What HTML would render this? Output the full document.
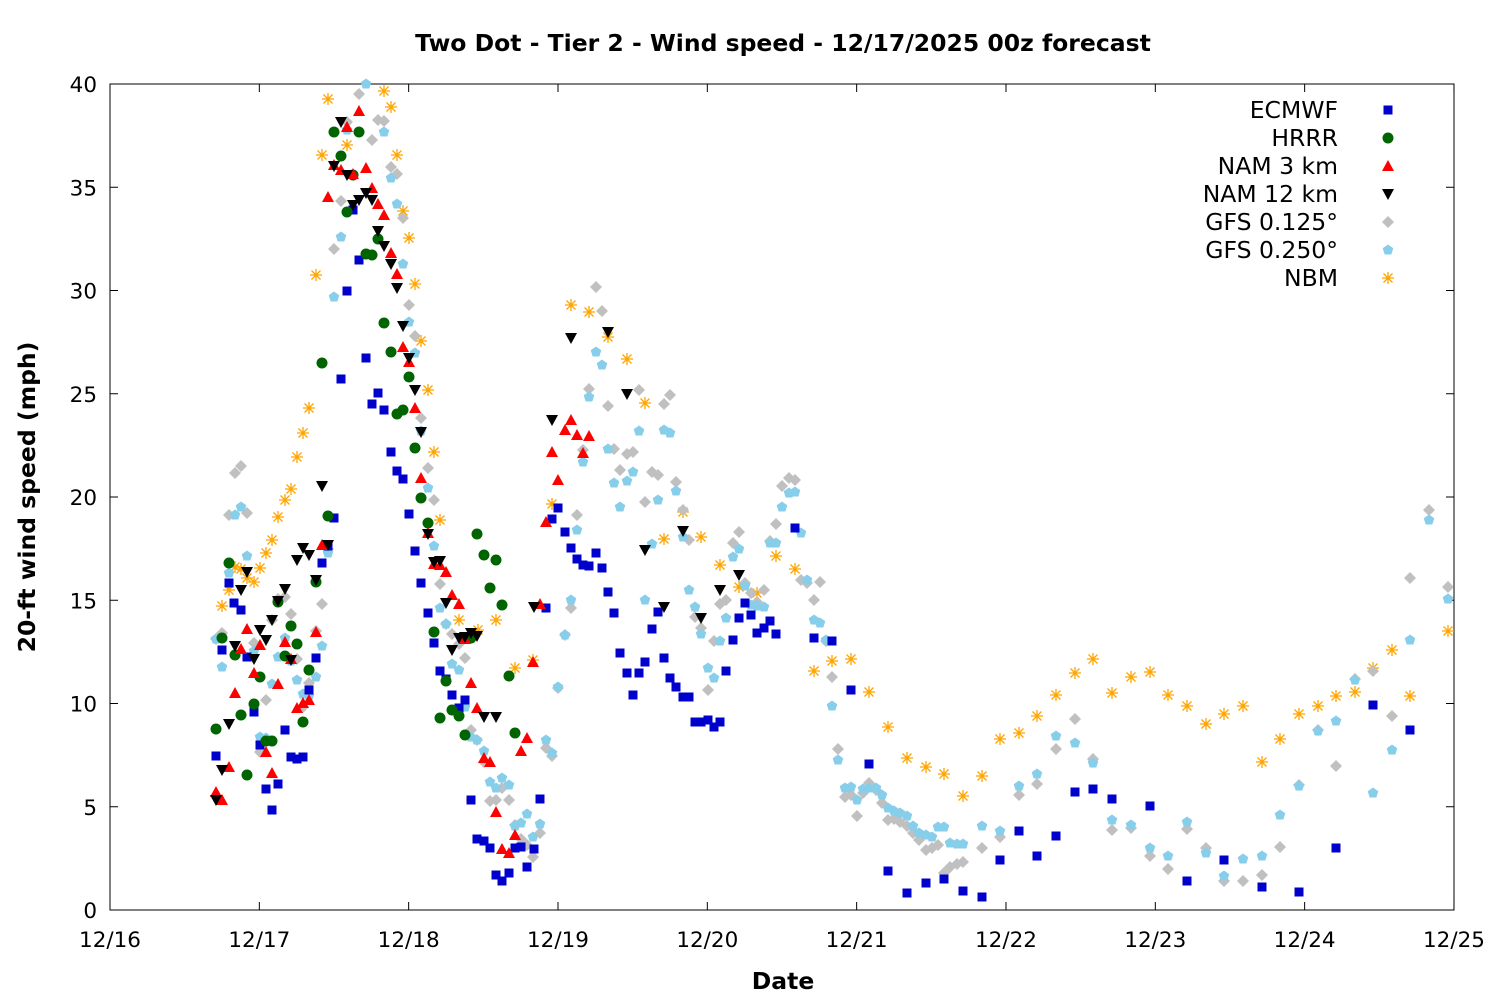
<!DOCTYPE html>
<html><head><meta charset="utf-8"><style>
body{margin:0;background:#fff;}
svg text{font-family:"DejaVu Sans","Liberation Sans",sans-serif;}
</style></head><body>
<svg id="s" width="1500" height="1000" xmlns="http://www.w3.org/2000/svg">
<rect width="1500" height="1000" fill="#fff"/>
<text x="783" y="51" text-anchor="middle" font-size="23.5" font-weight="bold">Two Dot - Tier 2 - Wind speed - 12/17/2025 00z forecast</text>
<rect x="110" y="84" width="1344" height="826" fill="none" stroke="#000" stroke-width="1"/>
<g id="ax" font-size="21.5"></g>
<text x="783" y="989" text-anchor="middle" font-size="23.5" font-weight="bold">Date</text>
<text transform="translate(35,497) rotate(-90)" text-anchor="middle" font-size="23.5" font-weight="bold">20-ft wind speed (mph)</text>
<g id="pts"></g>
<g id="leg" font-size="23.5"></g>
</svg>
<script>
const NS="http://www.w3.org/2000/svg";
function el(t,a,p,txt){const e=document.createElementNS(NS,t);for(const k in a)e.setAttribute(k,a[k]);if(txt!==undefined)e.textContent=txt;p.appendChild(e);return e;}
const ax=document.getElementById('ax');
for(let v=0;v<=40;v+=5){const y=910-v*20.65;el('line',{x1:110,x2:118,y1:y,y2:y,stroke:'#000'},ax);el('line',{x1:1446,x2:1454,y1:y,y2:y,stroke:'#000'},ax);el('text',{x:97,y:y+8,'text-anchor':'end'},ax,String(v));}
const dl=['12/16','12/17','12/18','12/19','12/20','12/21','12/22','12/23','12/24','12/25'];
dl.forEach((d,i)=>{const x=110+i*149.33;el('line',{x1:x,x2:x,y1:910,y2:902,stroke:'#000'},ax);el('line',{x1:x,x2:x,y1:84,y2:92,stroke:'#000'},ax);el('text',{x:x,y:947,'text-anchor':'middle'},ax,d);});
const g=document.getElementById('pts');
function mk(type,x,y,p){
 if(type==0)el('rect',{x:x-4.5,y:y-4.5,width:9,height:9,fill:'#0000cc'},p);
 else if(type==1)el('circle',{cx:x,cy:y,r:5.5,fill:'#006400'},p);
 else if(type==2)el('polygon',{points:`${x},${y-6} ${x-6},${y+5} ${x+6},${y+5}`,fill:'#ff0000'},p);
 else if(type==3)el('polygon',{points:`${x},${y+6} ${x-6},${y-5} ${x+6},${y-5}`,fill:'#000'},p);
 else if(type==4)el('polygon',{points:`${x},${y-6} ${x+6},${y} ${x},${y+6} ${x-6},${y}`,fill:'#c0c0c0'},p);
 else if(type==5)el('polygon',{points:`${x},${y-5.5} ${x+5.3},${y-1.7} ${x+3.3},${y+4.5} ${x-3.3},${y+4.5} ${x-5.3},${y-1.7}`,fill:'#87ceeb'},p);
 else {const s='#ffa500';el('path',{d:`M${x-6} ${y}H${x+6}M${x} ${y-6}V${y+6}M${x-4.5} ${y-4.5}L${x+4.5} ${y+4.5}M${x-4.5} ${y+4.5}L${x+4.5} ${y-4.5}`,stroke:s,'stroke-width':1.3},p);}
}
const D=[
[216,756,222,650,229,583,234,603,241,610,247,657,254,712,260,745,266,789,272,810,278,784,285,730,291,757,297,759,303,757,309,690,316,658,322,563,328,546,334,518,341,379,347,291,353,210,359,260,366,358,372,404,378,393,384,410,391,452,397,471,403,479,409,514,415,551,421,583,428,613,434,643,440,671,446,679,452,695,459,708,465,700,471,800,477,839,484,841,490,848,496,875,502,881,509,873,515,848,521,847,527,867,534,849,540,799,546,608,552,519,558,508,565,532,571,548,577,559,583,565,589,566,596,553,602,568,608,592,614,613,620,653,627,673,633,695,639,673,645,662,652,629,658,612,664,658,670,678,676,687,683,697,689,697,695,722,701,722,708,720,714,727,720,722,726,671,733,640,739,618,745,603,751,615,757,633,764,628,770,621,776,634,795,528,814,638,832,641,851,690,869,764,888,871,907,893,926,883,944,879,963,891,982,897,1000,860,1019,831,1037,856,1056,836,1075,792,1093,789,1112,799,1150,806,1187,881,1224,860,1262,887,1299,892,1336,848,1373,705,1410,730],
[216,729,222,638,229,563,235,655,241,715,247,775,254,704,260,677,266,741,272,741,278,602,285,656,291,626,297,644,303,722,309,670,316,582,322,363,328,516,334,132,341,156,347,212,353,175,359,132,366,254,372,255,378,239,384,323,391,352,397,414,403,410,409,377,415,448,421,498,428,523,434,632,440,718,446,681,452,710,459,716,465,735,471,638,477,534,484,555,490,588,496,560,502,605,509,676,515,733],
[216,792,222,800,229,767,235,693,241,649,247,629,254,673,260,645,266,752,272,773,278,684,285,642,291,659,297,708,303,703,309,700,316,632,322,545,328,197,334,165,341,170,347,127,353,174,359,111,366,168,372,188,378,204,384,215,391,253,397,274,403,347,409,362,415,408,421,478,428,533,434,564,440,565,446,572,452,595,459,604,465,639,471,683,477,708,484,758,490,762,496,812,502,849,509,853,515,835,521,751,527,738,533,662,540,604,546,522,552,452,558,480,565,430,571,420,577,435,583,453,589,436],
[216,800,222,770,229,724,235,646,241,590,247,572,254,659,260,630,266,640,272,620,278,601,285,589,291,660,297,560,303,548,309,555,316,580,322,486,328,545,334,166,341,122,347,175,353,205,359,200,366,193,372,200,378,231,384,246,391,264,397,288,403,326,409,358,415,390,421,432,428,534,434,562,440,561,446,603,452,650,459,638,465,637,471,633,477,636,484,717,496,717,534,607,552,420,571,338,608,332,627,394,645,550,664,607,683,531,701,618,720,590,739,575],
[216,639,222,633,229,515,235,473,241,466,247,513,254,643,260,752,266,700,272,620,278,599,285,597,291,614,297,659,303,707,309,683,316,631,322,604,328,549,334,249,341,201,347,122,359,94,372,140,378,120,384,121,391,167,397,174,403,218,409,305,415,336,421,418,428,468,434,500,440,584,446,624,452,634,459,644,465,658,471,730,477,740,484,762,490,801,496,800,502,788,509,800,515,825,521,839,527,845,533,857,540,833,546,748,552,756,558,688,565,635,571,608,577,515,583,450,589,389,596,287,602,311,608,406,614,449,620,470,627,454,633,452,639,390,645,502,652,472,658,475,664,404,670,395,676,482,683,510,689,540,695,617,701,628,708,690,714,641,720,604,726,600,733,543,739,532,745,583,751,593,757,602,764,590,770,541,776,524,782,486,789,478,795,480,801,580,807,583,814,600,820,582,826,641,832,677,838,749,845,797,851,795,857,816,863,793,869,783,876,790,882,803,888,820,894,819,900,822,907,826,913,833,919,840,926,850,932,848,938,845,944,873,950,867,957,864,963,862,982,848,1000,837,1019,795,1037,784,1056,749,1075,719,1093,759,1112,830,1131,828,1150,856,1168,869,1187,829,1206,848,1224,881,1243,881,1262,875,1280,847,1299,785,1318,730,1336,766,1355,679,1373,671,1392,716,1410,578,1429,510,1448,587],
[216,639,222,667,229,573,235,515,241,507,247,556,254,651,260,737,266,738,272,684,278,657,285,638,291,661,297,680,303,694,309,696,316,677,322,646,328,553,334,297,341,237,347,130,366,84,384,132,391,178,397,204,403,264,409,322,415,353,421,431,428,488,434,546,440,608,446,624,452,664,459,670,465,707,471,737,477,740,484,751,490,782,496,788,502,778,509,785,515,826,521,823,527,814,533,837,540,824,546,740,552,753,558,687,565,635,571,600,577,530,583,462,589,397,596,352,602,365,608,449,614,483,620,507,627,481,633,472,639,431,645,600,652,544,658,500,664,430,670,433,676,491,683,537,689,590,695,607,701,634,708,668,714,678,720,641,726,618,733,557,739,549,745,586,751,605,757,606,764,607,770,543,776,543,782,507,789,493,795,492,801,533,807,580,814,620,820,623,826,640,832,706,838,760,845,788,851,787,857,800,863,789,869,788,876,788,882,795,888,808,894,811,900,813,907,816,913,826,919,833,926,835,932,837,938,827,944,827,950,843,957,844,963,844,982,826,1000,831,1019,786,1037,774,1056,736,1075,743,1093,763,1112,820,1131,825,1150,848,1168,856,1187,822,1206,853,1224,876,1243,859,1262,856,1280,815,1299,786,1318,731,1336,721,1355,680,1373,793,1392,750,1410,640,1429,520,1448,599],
[222,606,229,590,235,567,241,569,247,578,254,582,260,568,266,553,272,540,278,517,285,500,291,489,297,457,303,433,309,408,316,275,322,155,328,99,347,145,384,91,391,107,397,155,403,211,409,238,415,284,421,341,428,390,434,452,440,520,459,620,478,630,496,620,515,668,533,660,552,504,571,305,589,312,608,337,627,359,645,403,664,539,683,512,701,537,720,565,739,587,757,593,776,556,795,569,814,671,832,661,851,659,869,692,888,727,907,758,926,767,944,774,963,796,982,776,1000,739,1019,733,1037,716,1056,695,1075,673,1093,659,1112,693,1131,677,1150,672,1168,695,1187,706,1206,724,1224,714,1243,706,1262,762,1280,739,1299,714,1318,706,1336,696,1355,692,1373,668,1392,650,1410,696,1448,631]
];
const order=[6,4,5,0,1,2,3];
order.forEach(t=>{const a=D[t];for(let i=0;i<a.length;i+=2)mk(t,a[i],a[i+1],g);});
const L=document.getElementById('leg');
['ECMWF','HRRR','NAM 3 km','NAM 12 km','GFS 0.125°','GFS 0.250°','NBM'].forEach((n,i)=>{const y=110+i*28;el('text',{x:1338,y:y+8,'text-anchor':'end'},L,n);mk(i,1388,y,L);});
</script>
</body></html>
